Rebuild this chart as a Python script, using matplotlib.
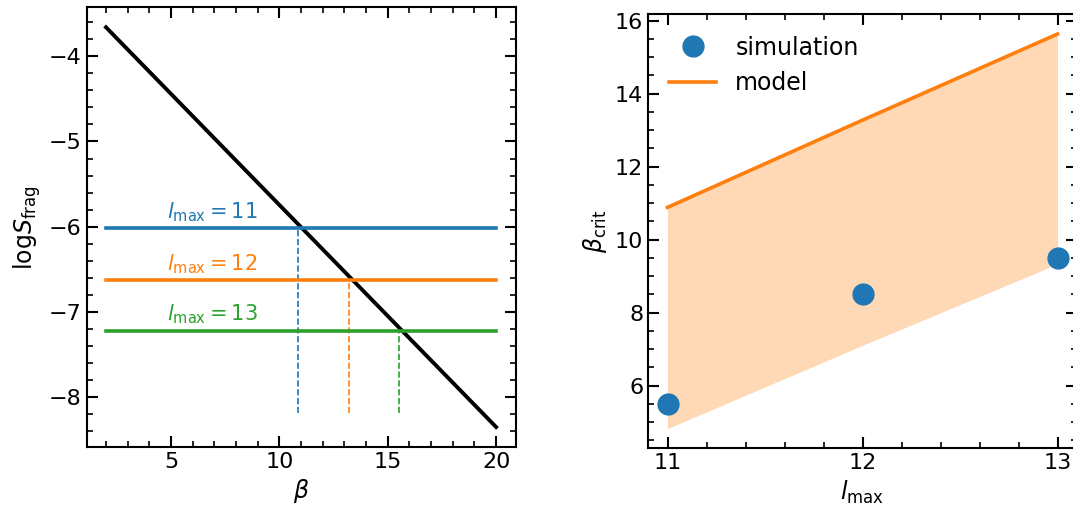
import numpy as np
import matplotlib
matplotlib.use("Agg")
from matplotlib import pyplot as plt
from matplotlib.ticker import AutoMinorLocator

# left panel: logS_frag vs beta
beta_ends = [2, 20]
logS_ends = [-3.66, -8.35]
lmax_levels = [11, 12, 13]
logS_levels = [-6.02, -6.63, -7.22]
beta_cross = [10.84, 13.2, 15.54]
dash_bottom = -8.18
colors = ['#1f77b4', '#ff7f0e', '#2ca02c']

# right panel: beta_crit vs l_max
lmax = [11, 12, 13]
beta_sim = [5.5, 8.5, 9.5]
beta_model = [10.88, 13.27, 15.63]
beta_low = [4.82, 7.1, 9.33]

plt.rcParams['font.size'] = 16
plt.rcParams['mathtext.fontset'] = 'dejavusans'

W, H = 1073, 513
fig = plt.figure(figsize=(W / 100, H / 100), dpi=100)


def px_axes(x0, x1, y0, y1):
    return fig.add_axes([x0 / W, (H - y1) / H, (x1 - x0) / W, (y1 - y0) / H])


def style(ax):
    ax.xaxis.set_minor_locator(AutoMinorLocator())
    ax.yaxis.set_minor_locator(AutoMinorLocator())
    ax.tick_params(which='both', direction='in', top=True, right=True, labelsize=16)
    ax.tick_params(which='major', length=8, width=1.5)
    ax.tick_params(which='minor', length=4, width=1.2)
    for s in ax.spines.values():
        s.set_linewidth(1.5)


ax1 = px_axes(86.5, 515.6, 7.3, 447)
ax1.plot(beta_ends, logS_ends, color='k', lw=2.8)
for lm, ls, bc, c in zip(lmax_levels, logS_levels, beta_cross, colors):
    ax1.plot(beta_ends, [ls, ls], color=c, lw=2.6)
    ax1.plot([bc, bc], [dash_bottom, ls], color=c, lw=1.2, ls='--')
    ax1.text(4.8, ls + 0.05, r'$l_{\rm max} = %d$' % lm, color=c,
             ha='left', va='bottom', fontsize=15)
ax1.set_xlabel(r'$\beta$', fontsize=17)
ax1.set_ylabel(r'log$S_{\rm frag}$', fontsize=17)
style(ax1)

ax2 = px_axes(648, 1077, 14.3, 448.3)
ax2.fill_between(lmax, beta_low, beta_model, color='#ff7f0e', alpha=0.3, lw=0)
ax2.plot(lmax, beta_sim, 'o', color='#1f77b4', ms=15, label='simulation')
ax2.plot(lmax, beta_model, color='#ff7f0e', lw=2.6, label='model')
ax2.set_xticks([11, 12, 13])
ax2.set_xlabel(r'$l_{\rm max}$', fontsize=17)
ax2.set_ylabel(r'$\beta_{\rm crit}$', fontsize=17)
ax2.legend(loc='upper left', frameon=False, fontsize=17)
style(ax2)

fig.savefig('out.png', dpi=100)
